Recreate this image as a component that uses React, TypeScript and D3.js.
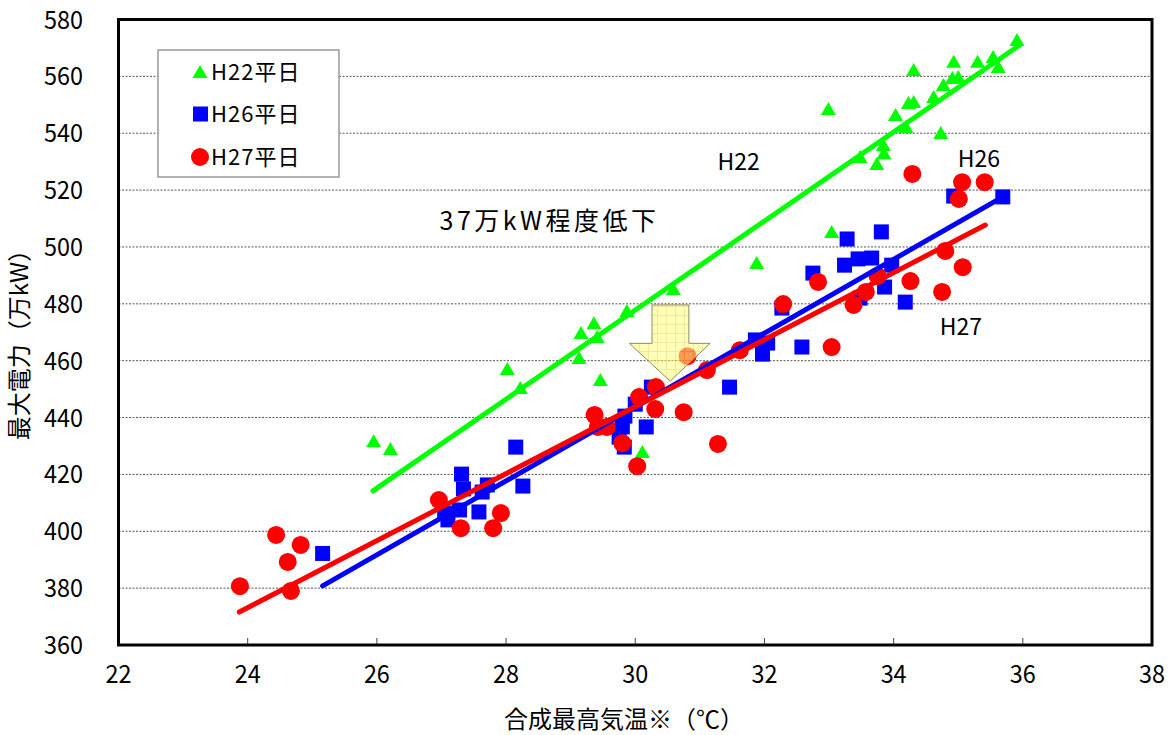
import * as d3 from "d3";
import { useEffect, useRef } from "react";

const W = 1169;
const H = 735;
const FONT = "'Noto Sans CJK JP', 'Noto Sans', sans-serif";

const xTicks = [22, 24, 26, 28, 30, 32, 34, 36, 38];
const yTicks = [360, 380, 400, 420, 440, 460, 480, 500, 520, 540, 560, 580];

// 合成最高気温 (℃), 最大電力 (万kW)
const h22Points: [number, number][] = [
  [25.95, 431.7], [26.21, 428.9], [28.02, 457.1], [28.22, 450.4],
  [29.13, 460.9], [29.16, 469.7], [29.36, 473.2], [29.41, 468.3],
  [29.46, 453.2], [29.87, 477.5], [30.11, 427.9], [30.59, 485.2],
  [31.88, 494.4], [32.99, 548.5], [33.04, 505.3], [33.48, 531.6],
  [33.74, 529.2], [33.84, 535.9], [33.85, 533.0], [34.03, 546.4],
  [34.19, 542.2], [34.23, 550.6], [34.31, 551.0], [34.31, 562.2],
  [34.62, 552.7], [34.73, 540.1], [34.77, 557.0], [34.91, 559.4],
  [34.93, 565.1], [35.0, 559.8], [35.3, 565.1], [35.54, 566.8],
  [35.62, 563.3], [35.91, 572.8],
];

const h26Points: [number, number][] = [
  [25.16, 392.2], [27.31, 420.1], [27.34, 414.9], [27.63, 413.8],
  [27.71, 416.3], [27.58, 406.8], [27.28, 407.5], [27.1, 404.0],
  [27.05, 406.4], [28.15, 429.6], [28.26, 415.9], [30.25, 450.7],
  [30.0, 444.7], [29.84, 440.5], [29.8, 436.7], [29.75, 433.1],
  [29.83, 429.6], [30.17, 436.7], [31.46, 450.7], [31.86, 467.3],
  [32.05, 466.2], [31.97, 462.3], [32.27, 478.5], [32.58, 464.8],
  [32.75, 490.8], [33.24, 493.6], [33.28, 502.8], [33.45, 495.8],
  [33.66, 496.1], [33.81, 505.3], [33.97, 493.6], [33.86, 485.9],
  [34.18, 480.6], [33.48, 482.0], [34.93, 517.9], [35.69, 517.6],
];

const h27Points: [number, number][] = [
  [23.88, 380.7], [24.44, 398.7], [24.82, 395.2], [24.62, 389.2],
  [24.67, 379.0], [26.96, 411.0], [27.3, 401.1], [27.8, 401.1],
  [27.92, 406.4], [29.37, 440.9], [29.42, 436.7], [29.56, 436.7],
  [29.8, 431.0], [30.03, 422.9], [30.06, 447.2], [30.31, 443.0],
  [30.32, 450.7], [30.75, 441.9], [30.81, 461.6], [31.11, 456.7],
  [31.28, 430.7], [31.62, 463.7], [32.29, 479.9], [32.83, 487.7],
  [33.04, 464.8], [33.38, 479.6], [33.57, 484.2], [33.75, 489.8],
  [34.26, 488.0], [34.75, 484.2], [34.8, 498.6], [35.07, 492.9],
  [34.29, 525.7], [35.06, 522.8], [35.41, 522.8], [35.01, 516.9],
];

// trend line end points
const h22Trend: [number, number][] = [[25.94, 414.2], [35.95, 571.0]];
const h26Trend: [number, number][] = [[25.16, 380.8], [35.69, 517.6]];
const h27Trend: [number, number][] = [[23.87, 371.6], [35.42, 507.7]];

// down arrow outline (data units)
const arrowShape: [number, number][] = [
  [30.26, 479.6], [30.83, 479.6], [30.83, 466.1], [31.16, 466.1],
  [30.54, 452.8], [29.91, 466.1], [30.26, 466.1],
];

const legendItems = ["H22平日", "H26平日", "H27平日"];
const colors = ["#00ff00", "#0000ff", "#ff0000"];

const notes: { text: string; x: number; y: number; anchor: string; size: number; spacing: number }[] = [
  { text: "H22", x: 31.6, y: 527.1, anchor: "middle", size: 23, spacing: 0 },
  { text: "H26", x: 35.32, y: 528.1, anchor: "middle", size: 23, spacing: 0 },
  { text: "H27", x: 35.04, y: 469.0, anchor: "middle", size: 23, spacing: 0 },
  { text: "37万kW程度低下", x: 26.97, y: 506.0, anchor: "start", size: 25, spacing: 3.5 },
];

const triPath = "M0,-7L7.5,6L-7.5,6Z";

const App = () => {
  const svgRef = useRef<SVGSVGElement>(null);

  useEffect(() => {
    const svgEl = svgRef.current;
    if (!svgEl) return;
    const svg = d3.select(svgEl);
    svg.selectAll("*").remove();

    const left = 118.5;
    const right = 1152;
    const top = 19.5;
    const bottom = 645;

    const x = d3.scaleLinear().domain([22, 38]).range([left, right]);
    const y = d3.scaleLinear().domain([360, 580]).range([bottom, top]);

    const defs = svg.append("defs");
    const pat = defs
      .append("pattern")
      .attr("id", "arrowGrid")
      .attr("patternUnits", "userSpaceOnUse")
      .attr("width", 9)
      .attr("height", 9);
    pat.append("rect").attr("width", 9).attr("height", 9).attr("fill", "#ffff8c");
    pat
      .append("path")
      .attr("d", "M0,0.5H9M0.5,0V9")
      .attr("stroke", "#f0d850")
      .attr("stroke-width", 1);

    svg.append("rect").attr("width", W).attr("height", H).attr("fill", "#fff");

    // grid
    svg
      .selectAll("line.grid")
      .data(yTicks.filter((t) => t !== 360 && t !== 580))
      .enter()
      .append("line")
      .attr("x1", left)
      .attr("x2", right)
      .attr("y1", (t) => y(t))
      .attr("y2", (t) => y(t))
      .attr("stroke", "#555")
      .attr("stroke-width", 1)
      .attr("stroke-dasharray", "2,1.5");

    // x ticks
    svg
      .selectAll("line.xtick")
      .data(xTicks)
      .enter()
      .append("line")
      .attr("x1", (t) => x(t))
      .attr("x2", (t) => x(t))
      .attr("y1", bottom)
      .attr("y2", bottom - 7)
      .attr("stroke", "#444")
      .attr("stroke-width", 1);

    // frame
    svg
      .append("rect")
      .attr("x", left)
      .attr("y", top)
      .attr("width", right - left)
      .attr("height", bottom - top)
      .attr("fill", "none")
      .attr("stroke", "#000")
      .attr("stroke-width", 3);

    // tick labels
    svg
      .selectAll("text.ylab")
      .data(yTicks)
      .enter()
      .append("text")
      .attr("x", 83)
      .attr("y", (t) => y(t))
      .attr("dy", "0.36em")
      .attr("text-anchor", "end")
      .style("font-family", FONT)
      .style("font-size", "25px")
      .attr("textLength", 39)
      .attr("lengthAdjust", "spacingAndGlyphs")
      .text((t) => String(t));
    svg
      .selectAll("text.xlab")
      .data(xTicks)
      .enter()
      .append("text")
      .attr("x", (t) => x(t) - 13)
      .attr("y", 683)
      .style("font-family", FONT)
      .style("font-size", "25px")
      .attr("textLength", 26)
      .attr("lengthAdjust", "spacingAndGlyphs")
      .text((t) => String(t));

    // axis titles
    svg
      .append("text")
      .attr("x", 624)
      .attr("y", 728)
      .attr("text-anchor", "middle")
      .style("font-family", FONT)
      .style("font-size", "24px")
      .text("合成最高気温※（℃）");
    svg
      .append("text")
      .attr("transform", "translate(28,339) rotate(-90)")
      .attr("text-anchor", "middle")
      .style("font-family", FONT)
      .style("font-size", "24px")
      .text("最大電力（万kW）");

    // markers
    svg
      .selectAll("path.h22")
      .data(h22Points)
      .enter()
      .append("path")
      .attr("d", triPath)
      .attr("transform", (d) => `translate(${x(d[0])},${y(d[1])})`)
      .attr("fill", colors[0]);
    svg
      .selectAll("rect.h26")
      .data(h26Points)
      .enter()
      .append("rect")
      .attr("x", (d) => x(d[0]) - 7.5)
      .attr("y", (d) => y(d[1]) - 7.5)
      .attr("width", 15)
      .attr("height", 15)
      .attr("fill", colors[1]);
    svg
      .selectAll("circle.h27")
      .data(h27Points)
      .enter()
      .append("circle")
      .attr("cx", (d) => x(d[0]))
      .attr("cy", (d) => y(d[1]))
      .attr("r", 9)
      .attr("fill", colors[2]);

    // trend lines
    const line = d3
      .line<[number, number]>()
      .x((d) => x(d[0]))
      .y((d) => y(d[1]));
    [h22Trend, h26Trend, h27Trend].forEach((t, i) => {
      svg
        .append("path")
        .attr("d", line(t))
        .attr("stroke", colors[i])
        .attr("stroke-width", 5)
        .attr("stroke-linecap", "round")
        .attr("fill", "none");
    });

    // arrow
    svg
      .append("path")
      .attr("d", line(arrowShape) + "Z")
      .attr("fill", "url(#arrowGrid)")
      .attr("fill-opacity", 0.6)
      .attr("stroke", "#8c8c5a")
      .attr("stroke-width", 1);

    // notes
    svg
      .selectAll("text.note")
      .data(notes)
      .enter()
      .append("text")
      .attr("x", (d) => x(d.x))
      .attr("y", (d) => y(d.y))
      .attr("text-anchor", (d) => d.anchor)
      .style("font-family", FONT)
      .style("font-size", (d) => `${d.size}px`)
      .style("letter-spacing", (d) => `${d.spacing}px`)
      .text((d) => d.text);

    // legend
    const lg = svg.append("g");
    lg.append("rect")
      .attr("x", 158)
      .attr("y", 50)
      .attr("width", 181)
      .attr("height", 127)
      .attr("fill", "#fff")
      .attr("stroke", "#999")
      .attr("stroke-width", 1.5);
    const rowY = [72, 114, 157];
    legendItems.forEach((label, i) => {
      const cy = rowY[i];
      if (i === 0)
        lg.append("path")
          .attr("d", triPath)
          .attr("transform", `translate(200,${cy})`)
          .attr("fill", colors[0]);
      else if (i === 1)
        lg.append("rect")
          .attr("x", 193)
          .attr("y", cy - 7.5)
          .attr("width", 15)
          .attr("height", 15)
          .attr("fill", colors[1]);
      else
        lg.append("circle")
          .attr("cx", 200)
          .attr("cy", cy)
          .attr("r", 9)
          .attr("fill", colors[2]);
      lg.append("text")
        .attr("x", 211)
        .attr("y", cy)
        .attr("dy", "0.38em")
        .style("font-family", FONT)
        .style("font-size", "22px")
        .style("letter-spacing", "1px")
        .text(label);
    });
  }, []);

  return (
    <svg
      ref={svgRef}
      width={W}
      height={H}
      style={{ position: "absolute", left: 0, top: 0, display: "block" }}
    />
  );
};

export default App;
